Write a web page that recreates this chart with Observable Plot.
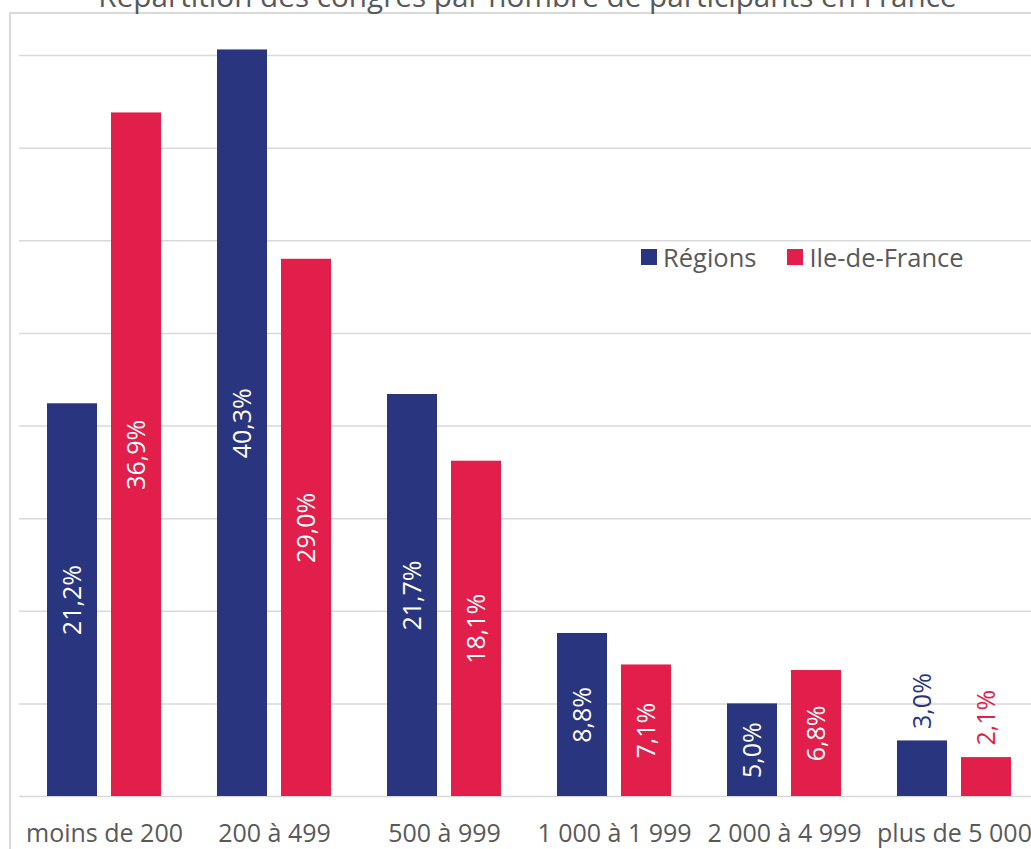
<!DOCTYPE html>
<html>
<head>
<meta charset="utf-8">
<script src="https://cdn.jsdelivr.net/npm/d3@7"></script>
<script src="https://cdn.jsdelivr.net/npm/@observablehq/plot@0.6"></script>
<style>
  html, body { margin: 0; padding: 0; overflow: hidden; background: white; width: 1031px; height: 849px; }
  #wrap { position: relative; width: 1031px; height: 849px; overflow: hidden; font-family: "Open Sans", sans-serif; }
  #wrap svg { max-width: none; position: absolute; left: 0; top: 0; }
  #frame { position: absolute; left: 9px; top: 12px; width: 1100px; height: 900px; border-left: 2px solid #d9d9d9; border-top: 2px solid #d9d9d9; pointer-events: none; }
  #title { position: absolute; left: 0; width: 1055px; top: -19px; text-align: center; font-size: 29.7px; line-height: 30px; color: #595959; white-space: nowrap; }
  #legend { position: absolute; left: 641px; top: 242px; font-size: 25.5px; line-height: 30px; color: #595959; display: flex; align-items: center; white-space: nowrap; }
  #legend .sw { display: inline-block; width: 16px; height: 16px; margin-right: 6px; }
  #legend .item { display: flex; align-items: center; margin-right: 31px; }
</style>
</head>
<body>
<div id="wrap">
  <div id="chart"></div>
  <div id="frame"></div>
  <div id="title">Répartition des congrès par nombre de participants en France</div>
  <div id="legend"></div>
</div>
<script>
const categories = ["moins de 200", "200 à 499", "500 à 999", "1 000 à 1 999", "2 000 à 4 999", "plus de 5 000"];
const series = ["Régions", "Ile-de-France"];
const regionsValues = [21.2, 40.3, 21.7, 8.8, 5.0, 3.0];
const idfValues = [36.9, 29.0, 18.1, 7.1, 6.8, 2.1];
const colors = ["#29357f", "#e21e4a"];
const gridTicks = [0, 5, 10, 15, 20, 25, 30, 35, 40];

const rows = [];
categories.forEach((c, i) => {
  rows.push({cat: c, serie: series[0], value: regionsValues[i]});
  rows.push({cat: c, serie: series[1], value: idfValues[i]});
});
const fmt = v => v.toFixed(1).replace(".", ",") + "%";
const inside = rows.filter(d => d.value >= 4);
const outside = rows.filter(d => d.value < 4);

const chart = Plot.plot({
  width: 1040,
  height: 849,
  marginLeft: 19,
  marginRight: 1,
  marginTop: 55,
  marginBottom: 53,
  style: {fontFamily: "'Open Sans', sans-serif"},
  fx: {domain: categories, padding: 0, label: null},
  x: {domain: series, paddingInner: 14 / 64, paddingOuter: 28 / 64, axis: null},
  y: {domain: [0, 40], axis: null},
  color: {domain: series, range: colors},
  marks: [
    Plot.ruleY(gridTicks, {stroke: "#d9d9d9", strokeWidth: 1.5}),
    Plot.barY(rows, {fx: "cat", x: "serie", y: "value", fill: "serie"}),
    Plot.text(inside, {fx: "cat", x: "serie", y: d => d.value / 2, text: d => fmt(d.value), rotate: -90, fill: "white", fontSize: 25}),
    Plot.text(outside, {fx: "cat", x: "serie", y: "value", text: d => fmt(d.value), rotate: -90, textAnchor: "start", dy: -12, fill: "serie", fontSize: 25}),
    Plot.axisFx({anchor: "bottom", tickSize: 0, tickPadding: 28, fontSize: 25, color: "#595959", label: null})
  ]
});
document.getElementById("chart").appendChild(chart);

const legend = document.getElementById("legend");
series.forEach((s, i) => {
  const item = document.createElement("div");
  item.className = "item";
  const sw = document.createElement("span");
  sw.className = "sw";
  sw.style.background = colors[i];
  const t = document.createElement("span");
  t.textContent = s;
  item.appendChild(sw);
  item.appendChild(t);
  legend.appendChild(item);
});
</script>
</body>
</html>
